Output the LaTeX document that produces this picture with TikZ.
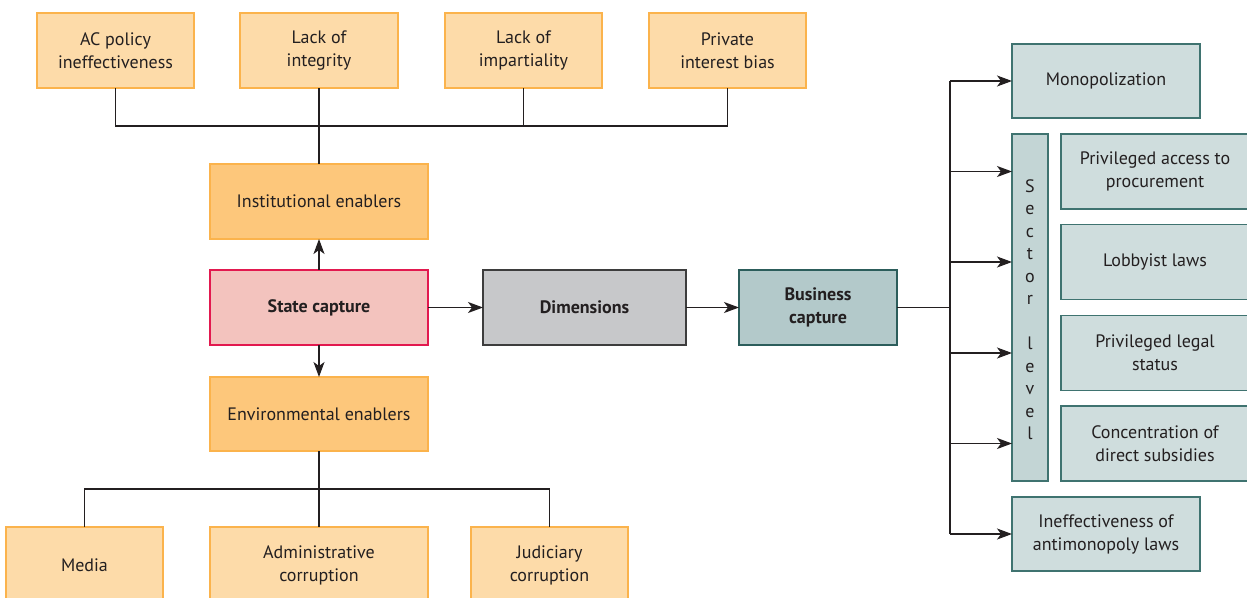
\documentclass[tikz,border=0pt]{standalone}
\usepackage{fontspec}
\setmainfont{PT Sans}
\usetikzlibrary{arrows.meta}
\definecolor{ink}{HTML}{231F20}
\definecolor{ofill}{HTML}{FDDBA9}
\definecolor{oline}{HTML}{FBB34C}
\definecolor{odark}{HTML}{FDC77B}
\definecolor{pfill}{HTML}{F3C3BE}
\definecolor{pline}{HTML}{E2194F}
\definecolor{gfill}{HTML}{C7C8CA}
\definecolor{gline}{HTML}{3D3D3D}
\definecolor{bfill}{HTML}{B3C9CA}
\definecolor{bline}{HTML}{2C5D5B}
\definecolor{tfill}{HTML}{CFDDDD}
\definecolor{tline}{HTML}{3F7370}
\definecolor{sfill}{HTML}{C3D5D5}
\newcommand\boxfont{\fontsize{18}{23}\selectfont}
\tikzset{
  base/.style={draw, line width=1.3pt, align=center, inner sep=2pt, outer sep=0pt,
    text=ink, font=\boxfont},
  leaf/.style={base, fill=ofill, draw=oline},
  enabler/.style={base, fill=odark, draw=oline},
  capture/.style={base, fill=pfill, draw=pline, font=\boxfont\bfseries},
  dimbox/.style={base, fill=gfill, draw=gline, font=\boxfont\bfseries},
  bizbox/.style={base, fill=bfill, draw=bline, font=\boxfont\bfseries},
  teal/.style={base, fill=tfill, draw=tline},
  bar/.style={base, fill=sfill, draw=tline},
  wire/.style={draw=ink, line width=1.3pt},
  arr/.style={wire, -{Stealth[length=15pt, width=11pt, inset=4pt]}},
  sz/.style 2 args={minimum width=#1pt, minimum height=#2pt}
}
\begin{document}
\begin{tikzpicture}[x=1pt, y=-1pt]
\useasboundingbox (0,0) rectangle (1247,597);
\clip (0,0) rectangle (1247,597);

% institutional side
\node[leaf, sz={157}{75}] (ac)    at (115.5,50.5) {AC policy\\ineffectiveness};
\node[leaf, sz={158}{75}] (integ) at (319,50.5)   {Lack of\\integrity};
\node[leaf, sz={157}{75}] (imp)   at (523.5,50.5) {Lack of\\impartiality};
\node[leaf, sz={157}{75}] (priv)  at (727.5,50.5) {Private\\interest bias};
\node[enabler, sz={218}{75}] (inst) at (319,201.5) {Institutional enablers};

% core chain
\node[capture, sz={218}{75}] (state) at (319,307.5) {State capture};
\node[dimbox, sz={203}{75}] (dim) at (584.5,307.5) {Dimensions};
\node[bizbox, sz={158}{75}] (biz) at (818,307.5) {Business\\capture};

% environmental side
\node[enabler, sz={218}{74}] (env) at (319,414) {Environmental enablers};
\node[leaf, sz={157}{76}] (media) at (84.5,565) {Media};
\node[leaf, sz={218}{76}] (adm)   at (319,565)  {Administrative\\corruption};
\node[leaf, sz={157}{76}] (jud)   at (549.5,565) {Judiciary\\corruption};

% business capture outcomes
\node[teal, sz={188}{74}] (mono) at (1106,81) {Monopolization};
\node[bar, sz={36}{347}] (sector) at (1030,307.5) {};
\node[text=ink, align=center, font=\fontsize{18}{22.5}\selectfont] (sectxt) at (1030,309.5)
  {S\\e\\c\\t\\o\\r\\[22.5pt]l\\e\\v\\e\\l};
\node[teal, sz={188}{75}] (proc) at (1155,171.5) {Privileged access to\\procurement};
\node[teal, sz={188}{75}] (lobby) at (1155,262) {Lobbyist laws};
\node[teal, sz={188}{75}] (legal) at (1155,353) {Privileged legal\\status};
\node[teal, sz={188}{75}] (subs) at (1155,443.5) {Concentration of\\direct subsidies};
\node[teal, sz={188}{74}] (ineff) at (1106,534) {Ineffectiveness of\\antimonopoly laws};

% junction points
\coordinate (tj) at (319,126);
\coordinate (bj) at (319,489);
\coordinate (trunk) at (950,307.5);

% upper tree
\draw[wire] (ac.south) |- (tj) -| (priv.south);
\draw[wire] (imp.south) -- (imp.south |- tj);
\draw[wire] (integ.south) -- (inst.north);

% lower tree
\draw[wire] (env.south) -- (adm.north);
\draw[wire] (media.north) |- (bj) -| (jud.north);

% main arrows
\draw[arr] (state.north) -- (inst.south);
\draw[arr] (state.south) -- (env.north);
\draw[arr] (state.east) -- (dim.west);
\draw[arr] (dim.east) -- (biz.west);

% branching to outcomes
\draw[wire] (biz.east) -- (trunk);
\draw[wire] (trunk |- mono) -- (trunk |- ineff);
\draw[arr] (trunk |- mono) -- (mono.west);
\draw[arr] (trunk |- proc) -- (sector.west |- proc);
\draw[arr] (trunk |- lobby) -- (sector.west |- lobby);
\draw[arr] (trunk |- legal) -- (sector.west |- legal);
\draw[arr] (trunk |- subs) -- (sector.west |- subs);
\draw[arr] (trunk |- ineff) -- (ineff.west);
\end{tikzpicture}
\end{document}
